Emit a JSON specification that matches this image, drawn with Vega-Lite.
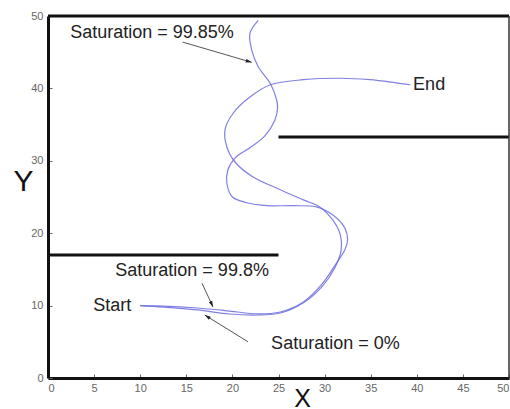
{
  "$schema": "https://vega.github.io/schema/vega-lite/v6.json",
  "width": 461,
  "height": 362,
  "autosize": {"type": "none"},
  "padding": {"left": 48, "top": 16, "right": 1, "bottom": 31},
  "background": "white",
  "config": {
    "view": {"stroke": null},
    "font": "Liberation Sans",
    "axis": {
      "grid": false,
      "domainColor": "#111",
      "domainWidth": 3,
      "tickColor": "#666",
      "tickSize": -4,
      "tickWidth": 1,
      "labelColor": "#666",
      "labelFontSize": 11,
      "labelFont": "Liberation Sans",
      "titleFont": "Liberation Sans",
      "titleFontWeight": "normal",
      "titleColor": "#111"
    }
  },
  "datasets": {
    "curves": [
      {"path": "A", "i": 1, "x": 10.0, "y": 10.0},
      {"path": "A", "i": 2, "x": 12.5, "y": 9.94},
      {"path": "A", "i": 3, "x": 16.2, "y": 9.67},
      {"path": "A", "i": 4, "x": 19.7, "y": 9.25},
      {"path": "A", "i": 5, "x": 22.7, "y": 8.85},
      {"path": "A", "i": 6, "x": 25.2, "y": 9.12},
      {"path": "A", "i": 7, "x": 27.7, "y": 10.5},
      {"path": "A", "i": 8, "x": 29.8, "y": 13.1},
      {"path": "A", "i": 9, "x": 31.3, "y": 15.9},
      {"path": "A", "i": 10, "x": 32.2, "y": 17.7},
      {"path": "A", "i": 11, "x": 32.5, "y": 19.1},
      {"path": "A", "i": 12, "x": 32.2, "y": 20.7},
      {"path": "A", "i": 13, "x": 30.9, "y": 22.5},
      {"path": "A", "i": 14, "x": 29.2, "y": 23.6},
      {"path": "A", "i": 15, "x": 26.6, "y": 23.8},
      {"path": "A", "i": 16, "x": 23.8, "y": 23.8},
      {"path": "A", "i": 17, "x": 21.6, "y": 24.2},
      {"path": "A", "i": 18, "x": 20.0, "y": 25.0},
      {"path": "A", "i": 19, "x": 19.4, "y": 26.9},
      {"path": "A", "i": 20, "x": 19.5, "y": 28.7},
      {"path": "A", "i": 21, "x": 20.3, "y": 30.4},
      {"path": "A", "i": 22, "x": 21.9, "y": 31.8},
      {"path": "A", "i": 23, "x": 23.5, "y": 33.4},
      {"path": "A", "i": 24, "x": 24.6, "y": 35.6},
      {"path": "A", "i": 25, "x": 24.9, "y": 37.3},
      {"path": "A", "i": 26, "x": 24.8, "y": 38.4},
      {"path": "A", "i": 27, "x": 24.1, "y": 40.7},
      {"path": "A", "i": 28, "x": 22.8, "y": 43.0},
      {"path": "A", "i": 29, "x": 22.1, "y": 45.3},
      {"path": "A", "i": 30, "x": 21.9, "y": 47.6},
      {"path": "A", "i": 31, "x": 22.8, "y": 49.4},
      {"path": "B", "i": 1, "x": 10.0, "y": 10.0},
      {"path": "B", "i": 2, "x": 12.5, "y": 9.8},
      {"path": "B", "i": 3, "x": 16.2, "y": 9.4},
      {"path": "B", "i": 4, "x": 19.7, "y": 8.84},
      {"path": "B", "i": 5, "x": 22.7, "y": 8.7},
      {"path": "B", "i": 6, "x": 25.2, "y": 8.98},
      {"path": "B", "i": 7, "x": 27.7, "y": 10.4},
      {"path": "B", "i": 8, "x": 29.7, "y": 12.6},
      {"path": "B", "i": 9, "x": 31.1, "y": 15.2},
      {"path": "B", "i": 10, "x": 31.8, "y": 17.7},
      {"path": "B", "i": 11, "x": 31.7, "y": 19.8},
      {"path": "B", "i": 12, "x": 30.9, "y": 21.8},
      {"path": "B", "i": 13, "x": 29.5, "y": 23.6},
      {"path": "B", "i": 14, "x": 27.7, "y": 24.6},
      {"path": "B", "i": 15, "x": 25.2, "y": 26.0},
      {"path": "B", "i": 16, "x": 22.2, "y": 27.8},
      {"path": "B", "i": 17, "x": 20.3, "y": 29.8},
      {"path": "B", "i": 18, "x": 19.4, "y": 31.9},
      {"path": "B", "i": 19, "x": 19.2, "y": 34.3},
      {"path": "B", "i": 20, "x": 20.1, "y": 36.6},
      {"path": "B", "i": 21, "x": 21.9, "y": 38.8},
      {"path": "B", "i": 22, "x": 24.1, "y": 40.5},
      {"path": "B", "i": 23, "x": 27.7, "y": 41.2},
      {"path": "B", "i": 24, "x": 31.7, "y": 41.4},
      {"path": "B", "i": 25, "x": 34.9, "y": 41.2},
      {"path": "B", "i": 26, "x": 37.6, "y": 40.8},
      {"path": "B", "i": 27, "x": 39.3, "y": 40.5}
    ],
    "walls": [
      {"x": 0, "x2": 25, "y": 17},
      {"x": 25, "x2": 50, "y": 33.3},
      {"x": 0, "x2": 50, "y": 50}
    ],
    "notes": [
      {"label": "Saturation = 99.85%", "x": 2.4, "y": 47.6},
      {"label": "End", "x": 39.6, "y": 40.5},
      {"label": "Saturation = 99.8%", "x": 7.3, "y": 14.8},
      {"label": "Start", "x": 4.9, "y": 9.9},
      {"label": "Saturation = 0%", "x": 24.2, "y": 4.7}
    ],
    "arrows": [
      {"x": 14.6, "y": 46.4, "x2": 22.1, "y2": 43.6},
      {"x": 16.7, "y": 13.1, "x2": 17.9, "y2": 9.8},
      {"x": 21.7, "y": 5.0, "x2": 17.0, "y2": 8.7}
    ]
  },
  "layer": [
    {
      "data": {"name": "walls"},
      "mark": {"type": "rule", "color": "#111", "strokeWidth": 3},
      "encoding": {
        "x": {"field": "x", "type": "quantitative",
          "scale": {"domain": [0, 50], "nice": false},
          "axis": {
            "values": [0, 5, 10, 15, 20, 25, 30, 35, 40, 45, 50],
            "labelPadding": 8,
            "title": "X",
            "titleFontSize": 25,
            "titleX": 254,
            "titleY": 8,
            "titleBaseline": "top",
            "titleAlign": "center"
          }
        },
        "x2": {"field": "x2"},
        "y": {"field": "y", "type": "quantitative",
          "scale": {"domain": [0, 50], "nice": false},
          "axis": {
            "values": [0, 5, 10, 15, 20, 25, 30, 35, 40, 45, 50],
            "labelPadding": 9,
            "title": "Y",
            "titleFontSize": 30,
            "titleAngle": 0,
            "titleX": -25,
            "titleY": 165,
            "titleBaseline": "middle",
            "titleAlign": "center"
          }
        }
      }
    },
    {
      "data": {"values": [{"x": 50, "y": 0, "y2": 50}]},
      "mark": {"type": "rule", "color": "#333", "strokeWidth": 1.5},
      "encoding": {
        "x": {"field": "x", "type": "quantitative"},
        "y": {"field": "y", "type": "quantitative"},
        "y2": {"field": "y2"}
      }
    },
    {
      "data": {"name": "curves"},
      "mark": {"type": "line", "interpolate": "catmull-rom", "color": "#7272e0", "strokeWidth": 1.2, "opacity": 0.9},
      "encoding": {
        "x": {"field": "x", "type": "quantitative"},
        "y": {"field": "y", "type": "quantitative"},
        "detail": {"field": "path"},
        "order": {"field": "i", "type": "quantitative"}
      }
    },
    {
      "data": {"name": "arrows"},
      "mark": {"type": "rule", "color": "#555", "strokeWidth": 1},
      "encoding": {
        "x": {"field": "x", "type": "quantitative"},
        "y": {"field": "y", "type": "quantitative"},
        "x2": {"field": "x2"},
        "y2": {"field": "y2"}
      }
    },
    {
      "data": {"values": [{"x": 22.1, "y": 43.6}]},
      "mark": {"type": "point", "shape": "M0,0L-0.3,1L0.3,1Z", "angle": 106, "filled": true, "size": 144, "color": "#222", "opacity": 1},
      "encoding": {
        "x": {"field": "x", "type": "quantitative"},
        "y": {"field": "y", "type": "quantitative"}
      }
    },
    {
      "data": {"values": [{"x": 17.9, "y": 9.8}]},
      "mark": {"type": "point", "shape": "M0,0L-0.3,1L0.3,1Z", "angle": 155, "filled": true, "size": 144, "color": "#222", "opacity": 1},
      "encoding": {
        "x": {"field": "x", "type": "quantitative"},
        "y": {"field": "y", "type": "quantitative"}
      }
    },
    {
      "data": {"values": [{"x": 17.0, "y": 8.7}]},
      "mark": {"type": "point", "shape": "M0,0L-0.3,1L0.3,1Z", "angle": 302, "filled": true, "size": 144, "color": "#222", "opacity": 1},
      "encoding": {
        "x": {"field": "x", "type": "quantitative"},
        "y": {"field": "y", "type": "quantitative"}
      }
    },
    {
      "data": {"name": "notes"},
      "mark": {"type": "text", "align": "left", "baseline": "middle", "fontSize": 18, "color": "#222", "font": "Liberation Sans"},
      "encoding": {
        "x": {"field": "x", "type": "quantitative"},
        "y": {"field": "y", "type": "quantitative"},
        "text": {"field": "label"}
      }
    }
  ]
}
